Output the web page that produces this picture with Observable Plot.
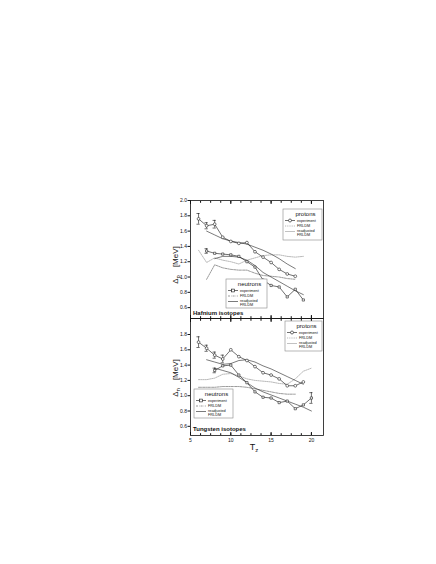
<!DOCTYPE html>
<html><head><meta charset="utf-8">
<script src="https://cdn.jsdelivr.net/npm/d3@7"></script>
<script src="https://cdn.jsdelivr.net/npm/@observablehq/plot@0.6"></script>
<style>
body{margin:0;background:#fff}
#root{position:relative;width:436px;height:564px;overflow:hidden;background:#fff;font-family:"Liberation Sans",Arial,sans-serif}
#root svg{position:absolute;left:0;top:0}
</style></head><body><div id="root"></div>
<script>
// ---------- data: Hafnium isotopes (top panel) ----------
const hfProtonTz   = [6,7,8,9,10,11,12,13,14,15,16,17,18];
const hfProtonExp  = [1.76,1.67,1.69,1.52,1.465,1.44,1.45,1.33,1.26,1.19,1.10,1.04,1.01];
const hfProtonErr  = [0.07,0.04,0.05,0,0,0,0,0,0,0,0,0,0];
const hfProtonReadjTz = [7,8,9,10,11,12,13,14,15,16,17,18];
const hfProtonReadj   = [1.60,1.55,1.50,1.47,1.45,1.43,1.39,1.35,1.30,1.24,1.17,1.11];
const hfProtonFrldmTz = [6,7,8,9,10,11,12,13,14,15,16,17,18,19];
const hfProtonFrldm   = [1.35,1.19,1.25,1.22,1.20,1.17,1.22,1.25,1.28,1.29,1.29,1.27,1.26,1.27];
const hfNeutronTz  = [7,8,9,10,11,12,13,14,15,16,17,18,19];
const hfNeutronExp = [1.34,1.31,1.30,1.29,1.27,1.20,1.13,0.96,0.89,0.87,0.74,0.84,0.70];
const hfNeutronErr = [0.03,0,0,0,0,0,0,0,0,0,0,0,0];
const hfNeutronReadjTz = [8,9,10,11,12,13,14,15,16,17,18,19];
const hfNeutronReadj   = [1.24,1.27,1.27,1.26,1.22,1.15,1.06,1.00,0.94,0.88,0.82,0.77];
const hfNeutronFrldmTz = [7,8,9,10,11,12,13,14,15,16,17,18];
const hfNeutronFrldm   = [0.97,1.16,1.12,1.10,1.09,1.09,1.05,1.02,1.01,1.00,0.98,0.97];

// ---------- data: Tungsten isotopes (bottom panel) ----------
const wProtonTz   = [6,7,8,9,10,11,12,13,14,15,16,17,18,19];
const wProtonExp  = [1.70,1.62,1.53,1.48,1.60,1.51,1.46,1.38,1.30,1.27,1.22,1.13,1.13,1.18];
const wProtonErr  = [0.07,0.04,0.04,0.05,0,0,0,0,0,0,0,0,0,0];
const wProtonReadjTz = [7,8,9,10,11,12,13,14,15,16,17,18,19];
const wProtonReadj   = [1.47,1.44,1.41,1.42,1.46,1.47,1.44,1.39,1.35,1.30,1.25,1.20,1.15];
const wProtonFrldmTz = [6,7,8,9,10,11,12,13,14,15,16,17,18,19,20];
const wProtonFrldm   = [1.21,1.21,1.23,1.28,1.29,1.26,1.22,1.20,1.19,1.18,1.16,1.15,1.22,1.32,1.36];
const wNeutronTz  = [8,9,10,11,12,13,14,15,16,17,18,19,20];
const wNeutronExp = [1.33,1.39,1.40,1.27,1.17,1.05,0.98,0.97,0.91,0.93,0.83,0.88,0.97];
const wNeutronErr = [0.03,0,0,0,0,0,0,0,0,0,0,0,0.07];
const wNeutronReadjTz = [8,9,10,11,12,13,14,15,16,17,18,19,20];
const wNeutronReadj   = [1.36,1.33,1.30,1.24,1.17,1.10,1.05,1.01,0.97,0.93,0.89,0.85,0.80];
const wNeutronFrldmTz = [6,7,8,9,10,11,12,13,14,15,16,17,18];
const wNeutronFrldm   = [1.11,1.11,1.11,1.12,1.12,1.12,1.11,1.09,1.07,1.05,1.03,1.02,1.02];

const yTicksTop = [0.6,0.8,1.0,1.2,1.4,1.6,1.8,2.0];
const yTicksBottom = [0.6,0.8,1.0,1.2,1.4,1.6,1.8];
const xTickLabels = [5,10,15,20];

const rows = (xs, ys, es) => xs.map((x, i) => ({x, y: ys[i], e: es ? es[i] : 0}));

const W = 436, H = 564, L = 190, R = 323;
const FONT = '"Liberation Sans",Arial,sans-serif';
const styles = {
  exp: {stroke: "#111", strokeWidth: 0.6},
  protonFrldm: {stroke: "#8a8a8a", strokeWidth: 0.6, strokeDasharray: "1.2,1"},
  protonReadj: {stroke: "#222", strokeWidth: 0.6},
  neutronFrldm: {stroke: "#555", strokeWidth: 0.6, strokeDasharray: "2,1,0.6,1"},
  neutronReadj: {stroke: "#222", strokeWidth: 0.6}
};

function panel({top, bottom, yDomain, yTicks, labels, d}) {
  const err = [...d.protonExp, ...d.neutronExp].filter(r => r.e > 0);
  const caps = err.flatMap(r => [{x: r.x, y: r.y - r.e}, {x: r.x, y: r.y + r.e}]);
  return Plot.plot({
    width: W, height: H,
    marginLeft: L, marginRight: W - R, marginTop: top, marginBottom: H - bottom,
    style: {background: "transparent", fontFamily: FONT, fontSize: "5px", color: "#111", overflow: "visible"},
    x: {domain: [5, 21.5]},
    y: {domain: yDomain},
    marks: [
      Plot.frame({stroke: "#111", strokeWidth: 0.8}),
      Plot.axisY({ticks: yTicks, tickSize: 2.5, tickPadding: 1, tickFormat: d3.format(".1f"), label: null, fontSize: 5}),
      Plot.axisX({anchor: "bottom", ticks: d3.range(5, 21.01, 1.25), tickSize: -1.8, tickFormat: () => "", label: null}),
      Plot.axisX({anchor: "bottom", ticks: xTickLabels, tickSize: -3, tickFormat: () => "", label: null}),
      Plot.axisX({anchor: "top", ticks: d3.range(5, 21.01, 1.25), tickSize: -1.8, tickFormat: () => "", label: null}),
      Plot.axisX({anchor: "top", ticks: xTickLabels, tickSize: -3, tickFormat: () => "", label: null}),
      labels ? Plot.axisX({anchor: "bottom", ticks: xTickLabels, tickSize: 0, tickPadding: 3, label: null, fontSize: 5}) : null,
      Plot.line(d.protonFrldm, {x: "x", y: "y", ...styles.protonFrldm}),
      Plot.line(d.neutronFrldm, {x: "x", y: "y", ...styles.neutronFrldm}),
      Plot.line(d.protonReadj, {x: "x", y: "y", ...styles.protonReadj}),
      Plot.line(d.neutronReadj, {x: "x", y: "y", ...styles.neutronReadj}),
      Plot.ruleX(err, {x: "x", y1: r => r.y - r.e, y2: r => r.y + r.e, stroke: "#111", strokeWidth: 0.6}),
      Plot.ruleY(caps, {y: "y", x1: r => r.x - 0.2, x2: r => r.x + 0.2, stroke: "#111", strokeWidth: 0.6}),
      Plot.line(d.protonExp, {x: "x", y: "y", ...styles.exp}),
      Plot.line(d.neutronExp, {x: "x", y: "y", ...styles.exp}),
      Plot.dot(d.protonExp, {x: "x", y: "y", r: 1.4, symbol: "circle", fill: "white", stroke: "#111", strokeWidth: 0.55}),
      Plot.dot(d.neutronExp, {x: "x", y: "y", r: 1.25, symbol: "square", fill: "white", stroke: "#111", strokeWidth: 0.55})
    ]
  });
}

const root = document.getElementById("root");
const hf = {
  protonExp: rows(hfProtonTz, hfProtonExp, hfProtonErr),
  protonReadj: rows(hfProtonReadjTz, hfProtonReadj),
  protonFrldm: rows(hfProtonFrldmTz, hfProtonFrldm),
  neutronExp: rows(hfNeutronTz, hfNeutronExp, hfNeutronErr),
  neutronReadj: rows(hfNeutronReadjTz, hfNeutronReadj),
  neutronFrldm: rows(hfNeutronFrldmTz, hfNeutronFrldm)
};
const w = {
  protonExp: rows(wProtonTz, wProtonExp, wProtonErr),
  protonReadj: rows(wProtonReadjTz, wProtonReadj),
  protonFrldm: rows(wProtonFrldmTz, wProtonFrldm),
  neutronExp: rows(wNeutronTz, wNeutronExp, wNeutronErr),
  neutronReadj: rows(wNeutronReadjTz, wNeutronReadj),
  neutronFrldm: rows(wNeutronFrldmTz, wNeutronFrldm)
};
root.appendChild(panel({top: 200, bottom: 318, yDomain: [0.458, 2.0], yTicks: yTicksTop, labels: false, d: hf}));
root.appendChild(panel({top: 318, bottom: 435, yDomain: [0.48, 2.009], yTicks: yTicksBottom, labels: true, d: w}));

// ---------- overlay: axis titles, panel names, legends ----------
const svg = d3.select(root).append("svg").attr("width", W).attr("height", H)
  .style("font-family", FONT).style("pointer-events", "none");

function yTitle(cx, cy, sub) {
  const t = svg.append("text").attr("transform", `translate(${cx},${cy}) rotate(-90)`)
    .attr("text-anchor", "middle").attr("font-size", 8).attr("fill", "#111");
  t.append("tspan").text("Δ");
  t.append("tspan").attr("font-size", 6).attr("dy", 2.2).text(sub);
  t.append("tspan").attr("dy", -2.2).text("\u2002\u2002[MeV]");
}
yTitle(178, 265, "p");
yTitle(178, 378, "n");

const tz = svg.append("text").attr("x", 254).attr("y", 450).attr("text-anchor", "middle")
  .attr("font-size", 9).attr("fill", "#111");
tz.append("tspan").text("T");
tz.append("tspan").attr("font-size", 6).attr("dy", 2).text("z");

svg.append("text").attr("x", 193).attr("y", 315).attr("font-size", 6).attr("font-weight", 600).attr("fill", "#111").text("Hafnium isotopes");
svg.append("text").attr("x", 193).attr("y", 431).attr("font-size", 6).attr("font-weight", 600).attr("fill", "#111").text("Tungsten isotopes");

function legend(x, y, wd, ht, title, marker, s2, s3) {
  const g = svg.append("g").attr("transform", `translate(${x},${y})`);
  g.append("rect").attr("width", wd).attr("height", ht).attr("fill", "white").attr("stroke", "#888").attr("stroke-width", 0.6);
  g.append("text").attr("x", wd / 2 + 3).attr("y", 6.5).attr("text-anchor", "middle").attr("font-size", 6).attr("fill", "#111").text(title);
  const lx0 = 2, lx1 = 12, tx = 14;
  const y1 = 11.5, y2 = 17, y3 = 22.5;
  g.append("line").attr("x1", lx0).attr("x2", lx1).attr("y1", y1).attr("y2", y1).attr("stroke", "#111").attr("stroke-width", 0.6);
  if (marker === "circle") g.append("circle").attr("cx", (lx0 + lx1) / 2).attr("cy", y1).attr("r", 1.5).attr("fill", "white").attr("stroke", "#111").attr("stroke-width", 0.6);
  else g.append("rect").attr("x", (lx0 + lx1) / 2 - 1.4).attr("y", y1 - 1.4).attr("width", 2.8).attr("height", 2.8).attr("fill", "white").attr("stroke", "#111").attr("stroke-width", 0.6);
  g.append("text").attr("x", tx).attr("y", y1 + 1.3).attr("font-size", 3.8).attr("fill", "#111").text("experiment");
  g.append("line").attr("x1", lx0).attr("x2", lx1).attr("y1", y2).attr("y2", y2).attr("stroke", s2.stroke).attr("stroke-width", 0.6).attr("stroke-dasharray", s2.strokeDasharray || null);
  g.append("text").attr("x", tx).attr("y", y2 + 1.3).attr("font-size", 3.8).attr("fill", "#111").text("FRLDM");
  g.append("line").attr("x1", lx0).attr("x2", lx1).attr("y1", y3).attr("y2", y3).attr("stroke", s3.stroke).attr("stroke-width", 0.6).attr("stroke-dasharray", s3.strokeDasharray || null);
  g.append("text").attr("x", tx).attr("y", y3 + 0.5).attr("font-size", 3.8).attr("fill", "#111").text("readjusted");
  g.append("text").attr("x", tx).attr("y", y3 + 4.6).attr("font-size", 3.8).attr("fill", "#111").text("FRLDM");
}
legend(283, 209, 39, 31, "protons", "circle", styles.protonFrldm, {stroke: "#999"});
legend(226, 279, 41, 29, "neutrons", "square", styles.neutronFrldm, styles.neutronReadj);
legend(285, 321, 37, 30, "protons", "circle", styles.protonFrldm, {stroke: "#999"});
legend(194, 389, 39, 29, "neutrons", "square", styles.neutronFrldm, styles.neutronReadj);
</script>
</body></html>
